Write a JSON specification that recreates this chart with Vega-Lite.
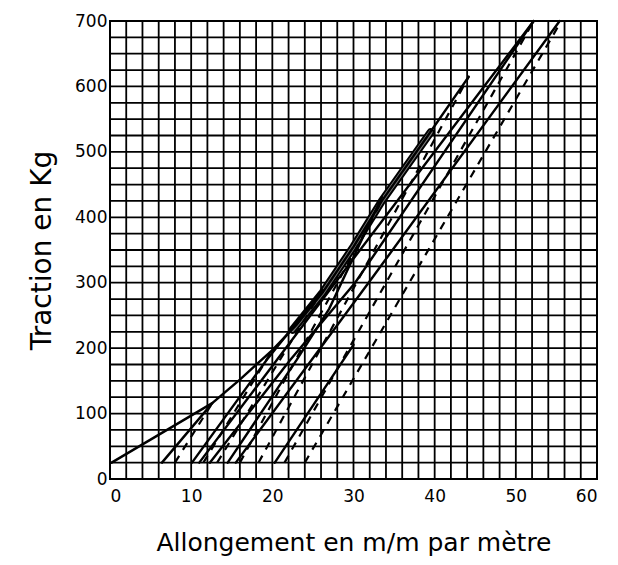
{
  "$schema": "https://vega.github.io/schema/vega-lite/v6.json",
  "width": 487,
  "height": 458,
  "autosize": "none",
  "padding": {"left": 110, "top": 21, "right": 21, "bottom": 86},
  "background": "white",
  "config": {"view": {"stroke": "black", "strokeWidth": 2}, "font": "DejaVu Sans"},
  "data": {"values": [
    {"id": "a", "s": "solid", "o": 1, "x": 0.2, "y": 25},
    {"id": "a", "s": "solid", "o": 2, "x": 12.6, "y": 116},
    {"id": "b", "s": "solid", "o": 1, "x": 6.4, "y": 25},
    {"id": "b", "s": "solid", "o": 2, "x": 12.6, "y": 116},
    {"id": "b", "s": "solid", "o": 3, "x": 16, "y": 152},
    {"id": "b", "s": "solid", "o": 4, "x": 20, "y": 197},
    {"id": "b", "s": "solid", "o": 5, "x": 23, "y": 236},
    {"id": "b", "s": "solid", "o": 6, "x": 26.2, "y": 285},
    {"id": "b", "s": "solid", "o": 7, "x": 30, "y": 355},
    {"id": "b", "s": "solid", "o": 8, "x": 33.5, "y": 425},
    {"id": "b", "s": "solid", "o": 9, "x": 39, "y": 522},
    {"id": "b", "s": "solid", "o": 10, "x": 44.2, "y": 615},
    {"id": "c", "s": "solid", "o": 1, "x": 10.1, "y": 25},
    {"id": "c", "s": "solid", "o": 2, "x": 19.3, "y": 182},
    {"id": "c", "s": "solid", "o": 3, "x": 26.2, "y": 289},
    {"id": "d", "s": "solid", "o": 1, "x": 11, "y": 25},
    {"id": "d", "s": "solid", "o": 2, "x": 28.3, "y": 309},
    {"id": "d", "s": "solid", "o": 3, "x": 52.2, "y": 700},
    {"id": "e", "s": "solid", "o": 1, "x": 12.3, "y": 25},
    {"id": "e", "s": "solid", "o": 2, "x": 22.2, "y": 182},
    {"id": "e", "s": "solid", "o": 3, "x": 30.2, "y": 300},
    {"id": "e", "s": "solid", "o": 4, "x": 52.2, "y": 700},
    {"id": "f", "s": "solid", "o": 1, "x": 14.5, "y": 25},
    {"id": "f", "s": "solid", "o": 2, "x": 23, "y": 182},
    {"id": "f", "s": "solid", "o": 3, "x": 27, "y": 260},
    {"id": "f", "s": "solid", "o": 4, "x": 33.5, "y": 431},
    {"id": "g", "s": "solid", "o": 1, "x": 15.5, "y": 25},
    {"id": "g", "s": "solid", "o": 2, "x": 32.4, "y": 309},
    {"id": "g", "s": "solid", "o": 3, "x": 55.4, "y": 700},
    {"id": "h", "s": "solid", "o": 1, "x": 20.3, "y": 25},
    {"id": "h", "s": "solid", "o": 2, "x": 27.1, "y": 151},
    {"id": "h", "s": "solid", "o": 3, "x": 30, "y": 205},
    {"id": "k", "s": "band", "o": 1, "x": 22.5, "y": 228},
    {"id": "k", "s": "band", "o": 2, "x": 26.2, "y": 285},
    {"id": "k", "s": "band", "o": 3, "x": 30, "y": 355},
    {"id": "k", "s": "band", "o": 4, "x": 33.5, "y": 425},
    {"id": "k", "s": "band", "o": 5, "x": 39.5, "y": 530},
    {"id": "D1", "s": "dashed", "o": 1, "x": 8, "y": 25},
    {"id": "D1", "s": "dashed", "o": 2, "x": 12.6, "y": 116},
    {"id": "D2", "s": "dashed", "o": 1, "x": 11.5, "y": 25},
    {"id": "D2", "s": "dashed", "o": 2, "x": 20, "y": 197},
    {"id": "D3", "s": "dashed", "o": 1, "x": 13.2, "y": 25},
    {"id": "D3", "s": "dashed", "o": 2, "x": 26.2, "y": 289},
    {"id": "D4", "s": "dashed", "o": 1, "x": 16, "y": 25},
    {"id": "D4", "s": "dashed", "o": 2, "x": 33.5, "y": 425},
    {"id": "D5", "s": "dashed", "o": 1, "x": 18.3, "y": 25},
    {"id": "D5", "s": "dashed", "o": 2, "x": 44.2, "y": 615},
    {"id": "D6", "s": "dashed", "o": 1, "x": 21.5, "y": 25},
    {"id": "D6", "s": "dashed", "o": 2, "x": 52.2, "y": 700},
    {"id": "D7", "s": "dashed", "o": 1, "x": 24, "y": 25},
    {"id": "D7", "s": "dashed", "o": 2, "x": 55.6, "y": 700}
  ]},
  "encoding": {
    "x": {"field": "x", "type": "quantitative", "scale": {"domain": [0, 60], "nice": false},
      "axis": {"values": [0, 10, 20, 30, 40, 50, 60], "gridColor": "black", "grid": false,
        "ticks": false, "domain": false, "labelFontSize": 17, "labelColor": "black", "labelPadding": 9,
        "title": "Allongement en m/m par mètre", "titleFontSize": 25, "titleFontWeight": "normal",
        "titleColor": "black", "titlePadding": 26}},
    "y": {"field": "y", "type": "quantitative", "scale": {"domain": [0, 700], "nice": false},
      "axis": {"values": [0, 100, 200, 300, 400, 500, 600, 700], "grid": false,
        "ticks": false, "domain": false, "labelFontSize": 17, "labelColor": "black", "labelPadding": 3,
        "title": "Traction en Kg", "titleFontSize": 28, "titleFontWeight": "normal",
        "titleColor": "black", "titlePadding": 18}}
  },
  "layer": [
    {
      "data": {"values": [
        {"gx": 2}, {"gx": 4}, {"gx": 6}, {"gx": 8}, {"gx": 10}, {"gx": 12}, {"gx": 14}, {"gx": 16}, {"gx": 18}, {"gx": 20},
        {"gx": 22}, {"gx": 24}, {"gx": 26}, {"gx": 28}, {"gx": 30}, {"gx": 32}, {"gx": 34}, {"gx": 36}, {"gx": 38}, {"gx": 40},
        {"gx": 42}, {"gx": 44}, {"gx": 46}, {"gx": 48}, {"gx": 50}, {"gx": 52}, {"gx": 54}, {"gx": 56}, {"gx": 58}
      ]},
      "mark": {"type": "rule", "color": "black", "strokeWidth": 1.8},
      "encoding": {"x": {"field": "gx", "type": "quantitative"}, "y": null}
    },
    {
      "data": {"values": [
        {"gy": 25}, {"gy": 50}, {"gy": 75}, {"gy": 100}, {"gy": 125}, {"gy": 150}, {"gy": 175}, {"gy": 200},
        {"gy": 225}, {"gy": 250}, {"gy": 275}, {"gy": 300}, {"gy": 325}, {"gy": 350}, {"gy": 375}, {"gy": 400},
        {"gy": 425}, {"gy": 450}, {"gy": 475}, {"gy": 500}, {"gy": 525}, {"gy": 550}, {"gy": 575}, {"gy": 600},
        {"gy": 625}, {"gy": 650}, {"gy": 675}
      ]},
      "mark": {"type": "rule", "color": "black", "strokeWidth": 1.8},
      "encoding": {"y": {"field": "gy", "type": "quantitative"}, "x": null}
    },
    {
      "transform": [{"filter": "datum.s === 'band'"}],
      "mark": {"type": "line", "color": "black", "strokeWidth": 8, "strokeCap": "round"},
      "encoding": {"detail": {"field": "id"}, "order": {"field": "o"}}
    },
    {
      "transform": [{"filter": "datum.s === 'band'"}],
      "mark": {"type": "line", "color": "#7a7a7a", "strokeWidth": 4, "strokeCap": "round"},
      "encoding": {"detail": {"field": "id"}, "order": {"field": "o"}}
    },
    {
      "transform": [{"filter": "datum.s === 'solid'"}],
      "mark": {"type": "line", "color": "black", "strokeWidth": 2.4, "strokeCap": "round"},
      "encoding": {"detail": {"field": "id"}, "order": {"field": "o"}}
    },
    {
      "transform": [{"filter": "datum.s === 'dashed'"}],
      "mark": {"type": "line", "color": "black", "strokeWidth": 2.2, "strokeDash": [8, 7]},
      "encoding": {"detail": {"field": "id"}, "order": {"field": "o"}}
    }
  ]
}
